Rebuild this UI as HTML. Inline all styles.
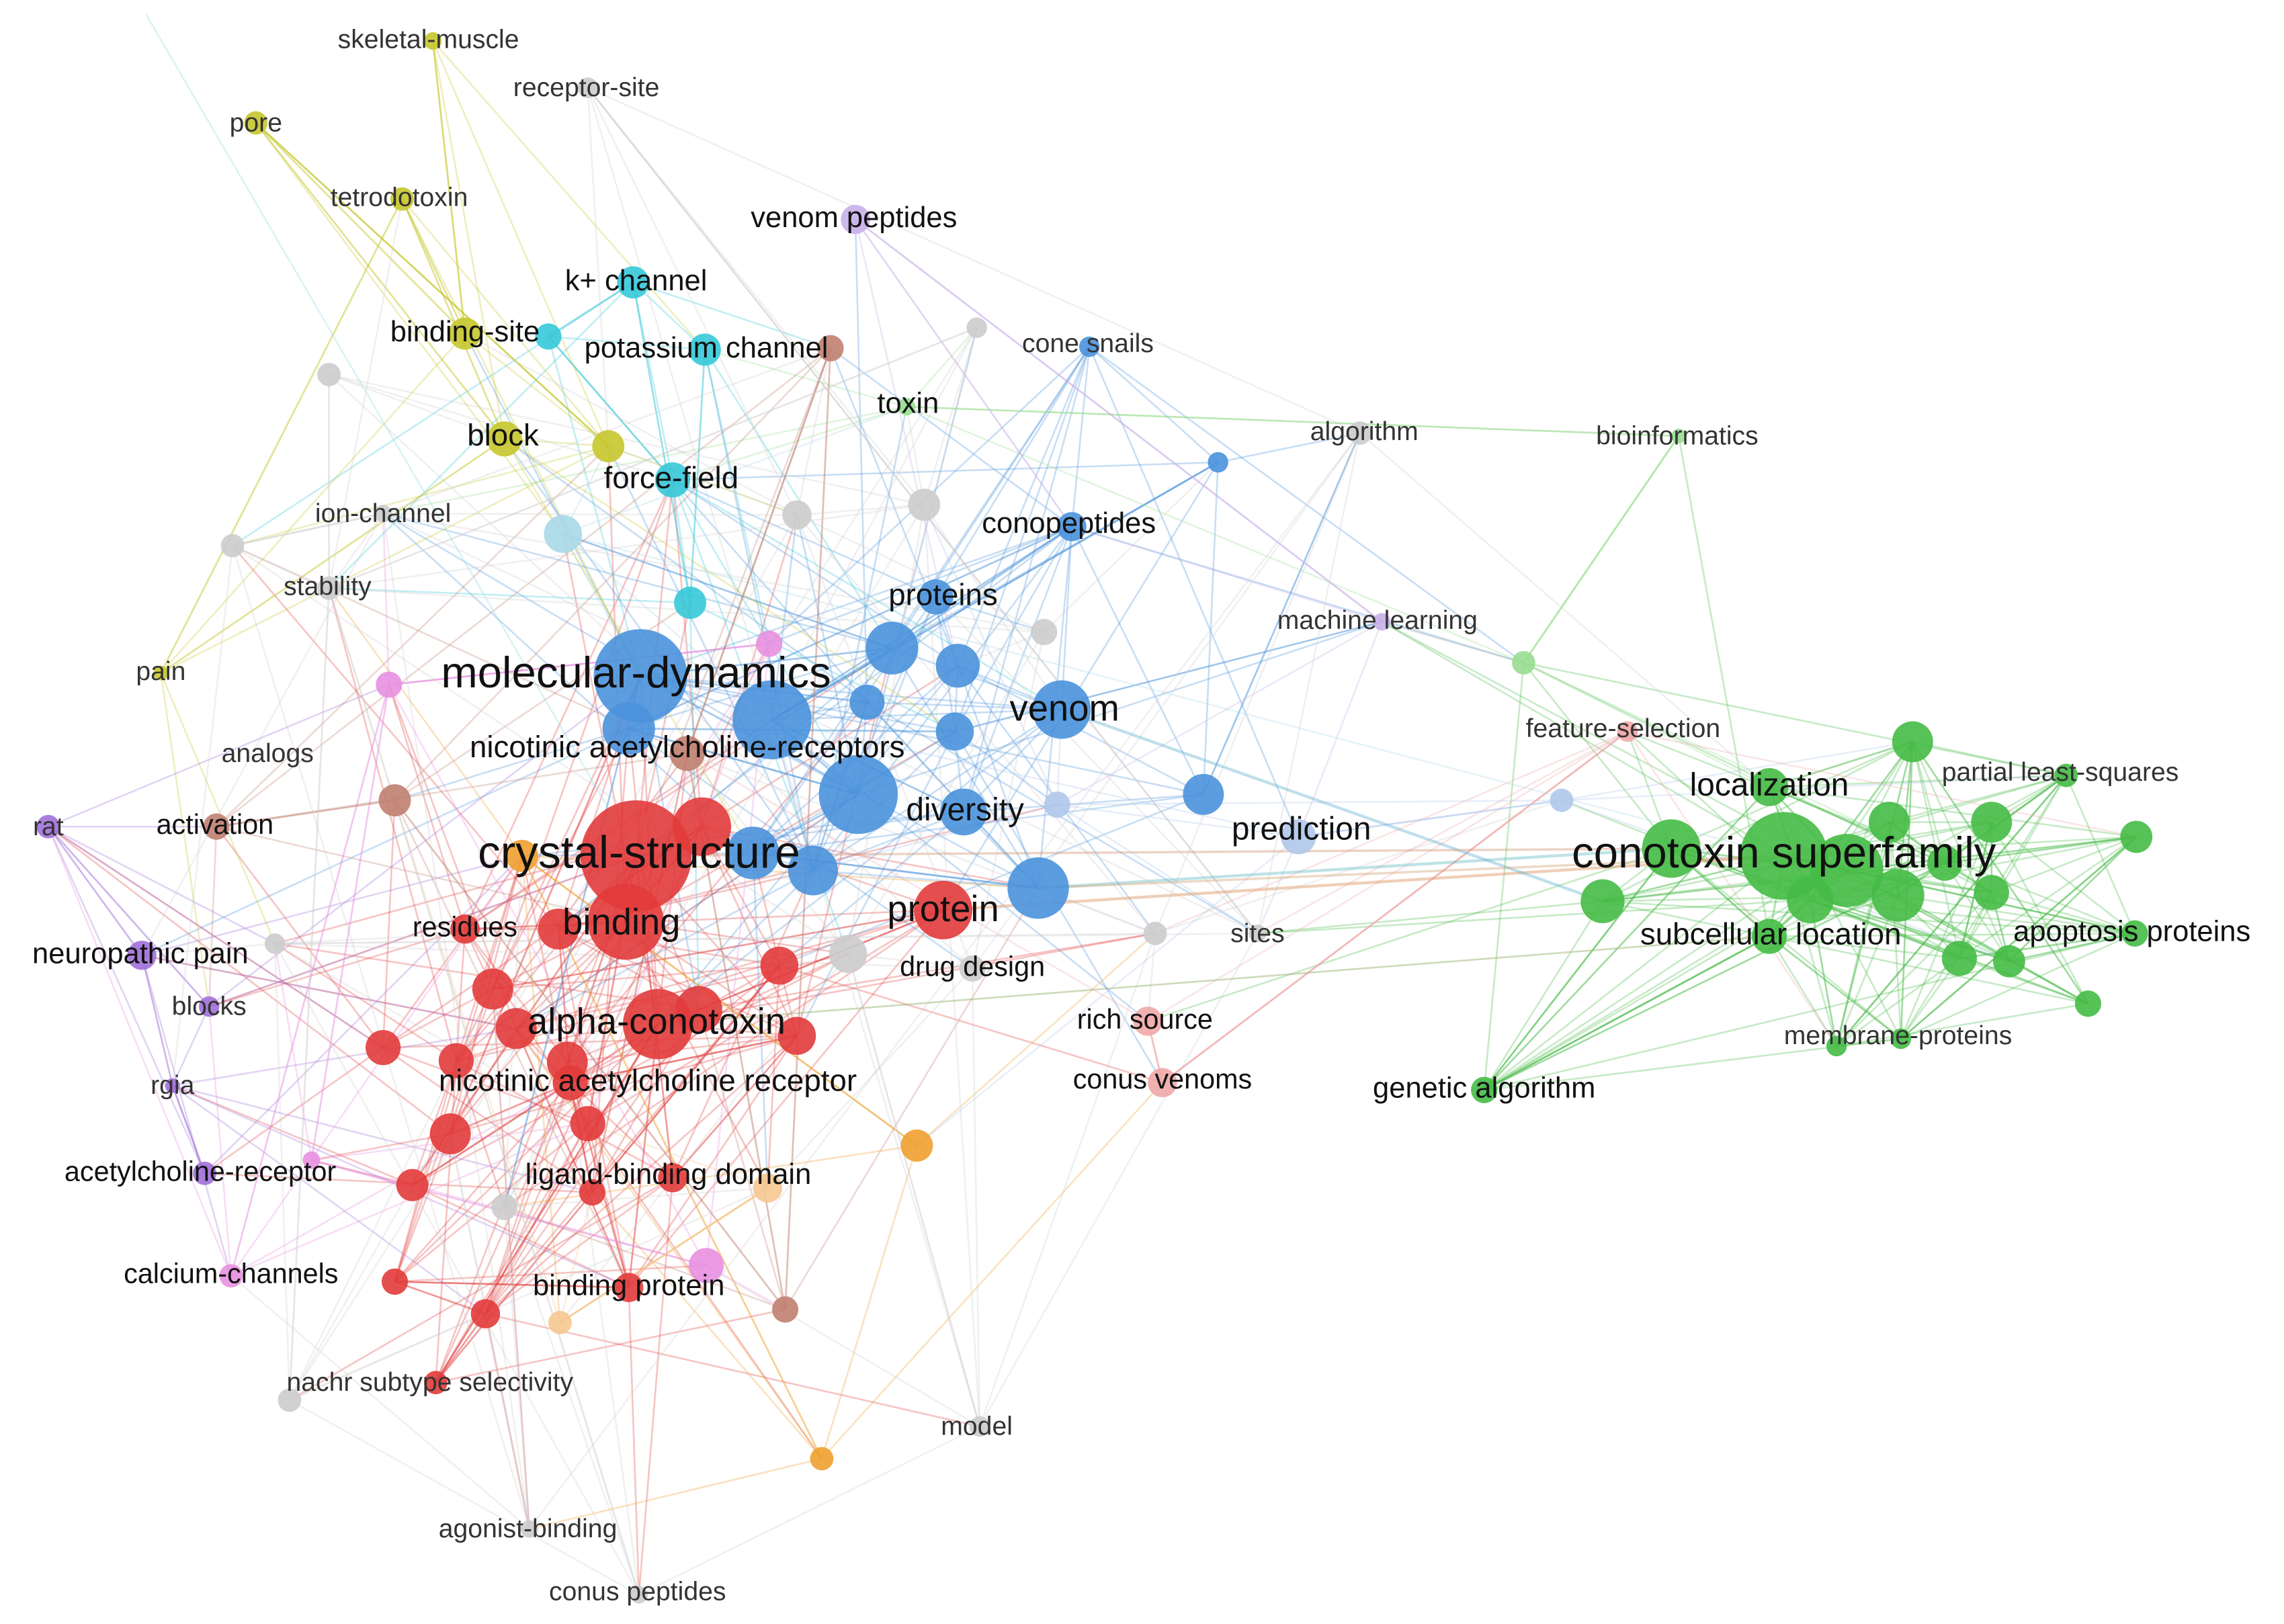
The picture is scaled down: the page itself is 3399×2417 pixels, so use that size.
<!DOCTYPE html>
<html><head><meta charset="utf-8">
<style>
html,body{margin:0;padding:0;background:#fff;}
svg{display:block;}
text{font-family:"Liberation Sans",sans-serif;text-anchor:middle;dominant-baseline:middle;fill:#222;}
</style></head>
<body>
<svg id="s" width="3399" height="2417" viewBox="0 0 1562 1110" preserveAspectRatio="none" xmlns="http://www.w3.org/2000/svg">
<g id="e"></g><g id="n"></g><g id="t"></g>
</svg>
<script>
var C={r:'#e23b3b',b:'#4a92dc',g:'#45bb45',c:'#36c8d8',y:'#c6c62e',p:'#a070d8',k:'#e890e0',w:'#c08070',o:'#f0a030',q:'#cccccc',s:'#f0a8a8',l:'#b0c8ea',m:'#c8b0e8',lg:'#98dd90',lc:'#a8d8e8',lo:'#f5c890'};
var N=[
[435,585,38,'r'],[428,630,26,'r'],[450,700,24,'r'],[645,622,20,'r'],[318,635,10,'r'],[390,740,12,'r'],[460,805,10,'r'],[430,880,10,'r'],[298,945,8,'r'],
[480,565,20,'r'],[382,635,14,'r'],[337,676,14,'r'],[353,703,14,'r'],[478,690,16,'r'],[533,660,13,'r'],[545,708,13,'r'],[262,716,12,'r'],[312,725,12,'r'],[308,775,14,'r'],[402,768,12,'r'],[282,810,11,'r'],[405,815,9,'r'],[270,876,9,'r'],[332,898,10,'r'],[388,726,14,'r'],
[438,462,32,'b'],[726,485,20,'b'],[659,555,16,'b'],[528,492,27,'b'],[587,543,27,'b'],[515,583,18,'b'],[556,595,17,'b'],[710,607,21,'b'],[610,443,18,'b'],[655,455,15,'b'],[653,500,13,'b'],[593,480,12,'b'],[640,408,12,'b'],[430,498,18,'b'],[823,543,14,'b'],[733,360,10,'b'],[745,237,7,'b'],[833,316,7,'b'],
[1220,585,30,'g'],[1263,595,25,'g'],[1143,580,20,'g'],[1298,612,18,'g'],[1238,615,16,'g'],[1096,616,15,'g'],[1210,538,13,'g'],[1308,507,14,'g'],[1292,562,14,'g'],[1330,590,12,'g'],[1362,562,14,'g'],[1362,610,12,'g'],[1340,655,12,'g'],[1374,657,11,'g'],[1461,572,11,'g'],[1460,638,9,'g'],[1428,686,9,'g'],[1413,530,8,'g'],[1300,710,7,'g'],[1256,715,7,'g'],[1210,640,12,'g'],[1015,745,9,'g'],[1042,453,8,'lg'],[1148,298,5,'lg'],[620,278,6,'lg'],
[433,193,11,'c'],[375,230,9,'c'],[482,239,11,'c'],[460,328,12,'c'],[472,412,11,'c'],[385,365,13,'lc'],
[296,28,6,'y'],[175,84,8,'y'],[275,136,8,'y'],[318,228,11,'y'],[345,300,12,'y'],[416,305,11,'y'],[110,460,5,'y'],
[33,565,8,'p'],[97,653,10,'p'],[143,688,7,'p'],[118,742,5,'p'],[140,802,8,'p'],[158,872,8,'k'],[585,150,10,'m'],[945,425,6,'m'],
[266,468,9,'k'],[526,440,9,'k'],[483,865,12,'k'],[213,793,6,'k'],
[148,565,9,'w'],[568,238,9,'w'],[470,515,12,'w'],[270,547,11,'w'],[537,895,9,'w'],
[357,585,11,'o'],[627,783,11,'o'],[562,997,8,'o'],[525,812,10,'lo'],[383,904,8,'lo'],
[402,60,7,'q'],[225,256,8,'q'],[159,373,8,'q'],[225,402,8,'q'],[262,351,6,'q'],[545,352,10,'q'],[632,345,11,'q'],[668,224,7,'q'],[714,432,9,'q'],[930,296,8,'q'],[580,652,13,'q'],[665,662,9,'q'],[790,638,8,'q'],[860,638,6,'q'],[670,975,7,'q'],[362,1045,6,'q'],[437,1090,6,'q'],[198,957,8,'q'],[345,825,9,'q'],[188,645,7,'q'],[723,550,9,'l'],
[785,698,10,'s'],[795,740,10,'s'],[1113,500,7,'s'],[888,572,12,'l'],[1068,547,8,'l']
];
var seed=7;function R(){seed=(seed*16807)%2147483647;return seed/2147483647;}
var E='';
var hubs=[0,1,2,3,25,28,29,43,44,26,32,9,13,45];
function d(a,b){return Math.hypot(a[0]-b[0],a[1]-b[1]);}
function ln(a,b,col,op,w){E+='<line x1="'+a[0]+'" y1="'+a[1]+'" x2="'+b[0]+'" y2="'+b[1]+'" stroke="'+col+'" stroke-opacity="'+op+'" stroke-width="'+w+'"/>';}
for(var i=0;i<N.length;i++){
 var a=N[i],col=C[a[3]];
 var k=a[3]=='r'||a[3]=='b'||a[3]=='g'?8:5;
 for(var j=0;j<k;j++){
  var b,cand;
  if(R()<0.5){cand=N.filter(function(x){return x[3]==a[3]&&x!==a;});}
  else{cand=N.filter(function(x){return x!==a&&d(a,x)<380;});}
  if(!cand.length)cand=hubs.map(function(h){return N[h];});
  b=cand[Math.floor(R()*cand.length)];
  if(b===a)continue;
  ln(a,b,col,0.3,1.2);
 }
}
ln(N[3],N[43],'#e0a070',0.5,2);ln(N[32],N[45],'#60b8c0',0.4,2);ln(N[26],N[48],'#60b0d0',0.4,2);
ln(N[0],N[45],'#d09070',0.4,1.6);ln(N[32],N[43],'#d0a070',0.4,1.6);ln(N[2],N[63],'#a0b070',0.3,1.2);ln([100,10],N[0],'#a0e0e8',0.4,1.2);
ln(N[63],N[45],'#45bb45',0.4,1.4);ln(N[63],N[43],'#45bb45',0.4,1.4);ln(N[63],N[44],'#45bb45',0.4,1.4);ln(N[63],N[2],'#a0c080',0.3,1.2);
document.getElementById('e').innerHTML=E;
var H='';N.forEach(function(a){H+='<circle cx="'+a[0]+'" cy="'+a[1]+'" r="'+a[2]+'" fill="'+C[a[3]]+'" fill-opacity="0.9"/>';});
document.getElementById('n').innerHTML=H;
</script>
<script>
var L=[
['molecular-dynamics',435,462,30,'#111'],['crystal-structure',437,585,31,'#111'],['conotoxin superfamily',1220,585,30,'#111'],
['binding',425,632,25,'#111'],['alpha-conotoxin',449,700,25,'#111'],['protein',645,623,25,'#111'],['venom',728,486,25,'#111'],
['diversity',660,555,22,'#111'],['prediction',890,568,22,'#111'],['localization',1210,538,22,'#111'],['subcellular location',1211,640,21,'#111'],
['apoptosis proteins',1458,638,20,'#111'],['nicotinic acetylcholine-receptors',470,512,21,'#111'],['nicotinic acetylcholine receptor',443,740,21,'#111'],
['ligand-binding domain',457,804,20,'#111'],['binding protein',430,880,20,'#111'],['residues',318,635,19,'#111'],['drug design',665,662,19,'#111'],
['rich source',783,698,19,'#111'],['conus venoms',795,739,19,'#111'],['genetic algorithm',1015,745,20,'#111'],['proteins',645,408,21,'#111'],
['conopeptides',731,359,20,'#111'],['force-field',459,328,21,'#111'],['block',344,299,21,'#111'],['binding-site',318,228,20,'#111'],
['potassium channel',483,239,20,'#111'],['k+ channel',435,193,20,'#111'],['toxin',621,277,20,'#111'],['venom peptides',584,150,20,'#111'],
['neuropathic pain',96,653,20,'#111'],['acetylcholine-receptor',137,802,19,'#111'],['calcium-channels',158,872,19,'#111'],['activation',147,565,19,'#111'],
['analogs',183,516,18,'#333'],['rat',33,566,18,'#333'],['blocks',143,689,18,'#333'],['rgia',118,743,18,'#333'],['pain',110,460,18,'#333'],
['stability',224,402,18,'#333'],['ion-channel',262,352,18,'#333'],['tetrodotoxin',273,136,18,'#333'],['pore',175,85,18,'#333'],
['skeletal-muscle',293,28,18,'#333'],['receptor-site',401,61,18,'#333'],['cone snails',744,236,18,'#333'],['algorithm',933,296,18,'#333'],
['bioinformatics',1147,299,18,'#333'],['machine learning',942,425,18,'#333'],['feature-selection',1110,499,18,'#333'],
['partial least-squares',1409,529,18,'#333'],['membrane-proteins',1298,709,18,'#333'],['sites',860,639,18,'#333'],
['nachr subtype selectivity',294,946,18,'#333'],['model',668,976,18,'#333'],['agonist-binding',361,1046,18,'#333'],['conus peptides',436,1089,18,'#333']
];
var T='';L.forEach(function(l){T+='<text x="'+l[1]+'" y="'+l[2]+'" font-size="'+l[3]+'" style="fill:'+l[4]+'">'+l[0]+'</text>';});
document.getElementById('t').innerHTML=T;
</script>
</body></html>
